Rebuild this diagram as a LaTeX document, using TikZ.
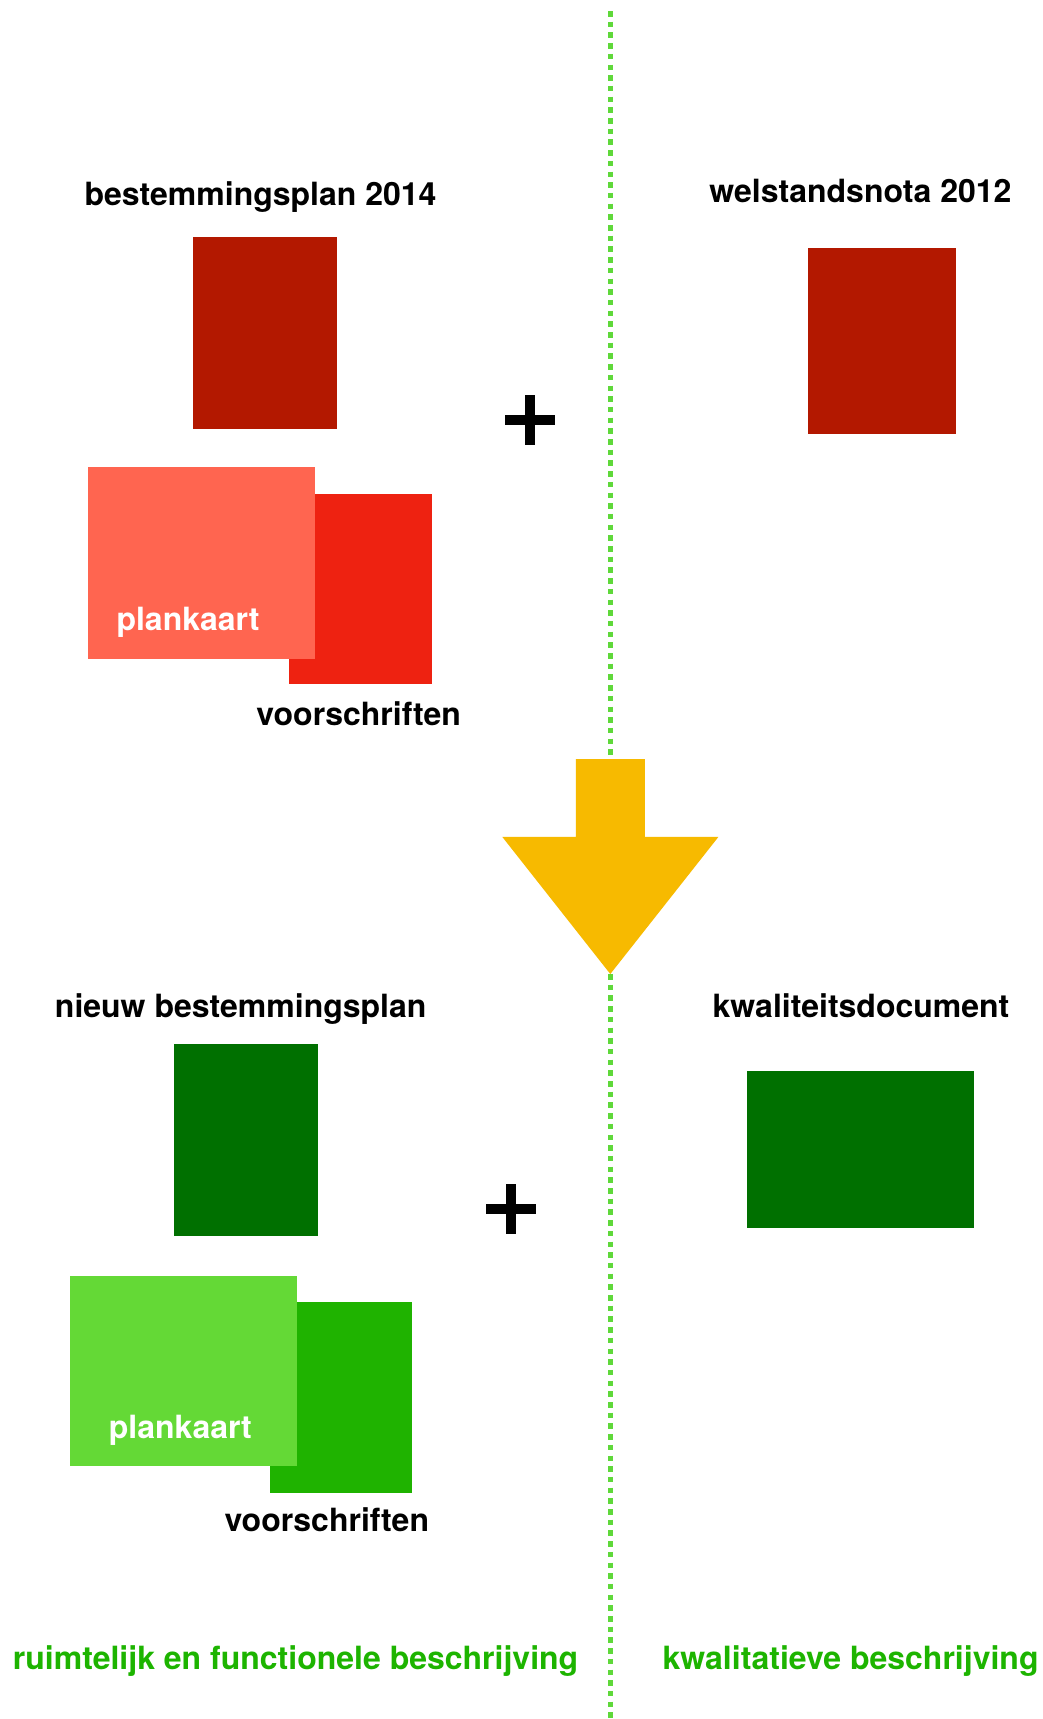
\documentclass[tikz,border=0pt]{standalone}
\usepackage{fontspec}
\setmainfont{TeX Gyre Heros}
\definecolor{darkred}{HTML}{B31800}
\definecolor{lightred}{HTML}{FF6550}
\definecolor{midred}{HTML}{EE2211}
\definecolor{darkgreen}{HTML}{007000}
\definecolor{lightgreen}{HTML}{64D936}
\definecolor{midgreen}{HTML}{1FB300}
\definecolor{linegreen}{HTML}{5FD83A}
\definecolor{textgreen}{HTML}{1DB400}
\definecolor{arrowyellow}{HTML}{F7BA00}
\begin{document}
\begin{tikzpicture}[x=1pt,y=-1pt,
  box/.style={rectangle, inner sep=0pt, outer sep=0pt, anchor=north west},
  lbl/.style={font=\bfseries\fontsize{32}{36}\selectfont, anchor=base, inner sep=0pt},
  dotline/.style={draw=linegreen, line width=5.5pt, dash pattern=on 5.5pt off 5.2pt},
  plusbar/.style={fill=black}]
\useasboundingbox[fill=white] (0,0) rectangle (1042,1719);

% divider
\coordinate (ltop) at (610.5,11);
\coordinate (lbot) at (610.5,1719);
\draw[dotline] (ltop) -- (lbot);

% top-left: bestemmingsplan 2014
\node[lbl] (t1) at (260.5,205) {bestemmingsplan 2014};
\node[box, fill=darkred, minimum width=143.7pt, minimum height=191.9pt] (bp) at (193,236.9) {};
\node[box, fill=midred, minimum width=143.6pt, minimum height=190.8pt] (vs1) at (288.5,493.6) {};
\node[box, fill=lightred, minimum width=227.1pt, minimum height=192pt] (pk1) at (87.7,467.2) {};
\node[lbl, text=white] (pkt1) at (188,630) {plankaart};
\node[lbl] (vst1) at (358.7,725.4) {voorschriften};

% plus top
\fill[plusbar] (504.7,415.1) rectangle (554.7,425.1);
\fill[plusbar] (524.7,395.1) rectangle (534.7,445.1);

% top-right
\node[lbl] (t2) at (860.4,202) {welstandsnota 2012};
\node[box, fill=darkred, minimum width=148.1pt, minimum height=186.4pt] (wn) at (808.3,247.9) {};

% arrow
\fill[arrowyellow] (575.8,759) -- (644.9,759) -- (644.9,836.9) -- (718.4,836.9)
  -- (610.3,974) -- (502.3,836.9) -- (575.8,836.9) -- cycle;

% bottom-left
\node[lbl] (t3) at (240.7,1017.2) {nieuw bestemmingsplan};
\node[box, fill=darkgreen, minimum width=143.7pt, minimum height=191.9pt] (nbp) at (174.4,1044.2) {};
\node[box, fill=midgreen, minimum width=142.6pt, minimum height=190.8pt] (vs2) at (269.8,1301.9) {};
\node[box, fill=lightgreen, minimum width=227pt, minimum height=190.8pt] (pk2) at (70.2,1275.6) {};
\node[lbl, text=white] (pkt2) at (180.4,1438.3) {plankaart};
\node[lbl] (vst2) at (326.8,1531.6) {voorschriften};

% plus bottom
\fill[plusbar] (486.1,1203.7) rectangle (536.1,1213.7);
\fill[plusbar] (506.1,1183.7) rectangle (516.1,1233.7);

% bottom-right
\node[lbl] (t4) at (861,1017.2) {kwaliteitsdocument};
\node[box, fill=darkgreen, minimum width=227.1pt, minimum height=157.9pt] (kd) at (746.9,1070.5) {};

% footer
\node[lbl, text=textgreen] (f1) at (295.6,1669.8) {ruimtelijk en functionele beschrijving};
\node[lbl, text=textgreen] (f2) at (850.6,1669.8) {kwalitatieve beschrijving};
\end{tikzpicture}
\end{document}
